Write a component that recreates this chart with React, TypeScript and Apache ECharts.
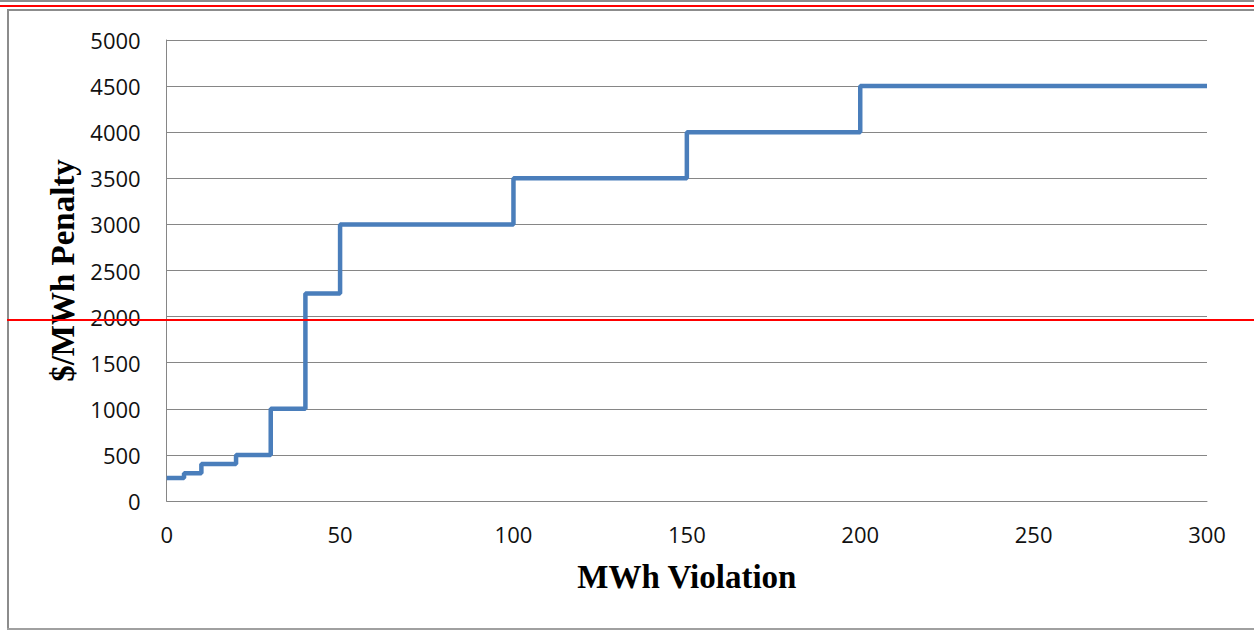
import React, { useEffect, useRef } from "react";
import * as echarts from "echarts";

const violationMWh = [0, 5, 10, 20, 30, 40, 50, 100, 150, 200, 300];
const penaltyPerMWh = [250, 300, 400, 500, 1000, 2250, 3000, 3500, 4000, 4500, 4500];
const xTitle = "MWh Violation";
const yTitle = "$/MWh Penalty";

export default function App() {
  const ref = useRef<HTMLDivElement>(null);
  useEffect(() => {
    const chart = echarts.init(ref.current!, null, { renderer: "svg" });
    const data = violationMWh.map((x, i) => [x, penaltyPerMWh[i]]);
    chart.setOption({
      animation: false,
      backgroundColor: "#ffffff",
      grid: { left: 166.7, top: 40, right: 47, bottom: 129 },
      xAxis: {
        type: "value",
        min: 0,
        max: 300,
        interval: 50,
        name: xTitle,
        nameLocation: "middle",
        nameGap: 59,
        nameTextStyle: { fontFamily: "Liberation Serif", fontWeight: "bold", fontSize: 33, color: "#000" },
        axisLine: { show: true, lineStyle: { color: "#868686", width: 1 } },
        axisTick: { show: false },
        splitLine: { show: false },
        axisLabel: { fontFamily: "Open Sans", fontSize: 22, color: "#111", margin: 22, formatter: (v: number) => String(v) },
      },
      yAxis: {
        type: "value",
        min: 0,
        max: 5000,
        interval: 500,
        name: yTitle,
        nameLocation: "middle",
        nameGap: 74,
        nameTextStyle: { fontFamily: "Liberation Serif", fontWeight: "bold", fontSize: 33, color: "#000" },
        axisLine: { show: true, lineStyle: { color: "#868686", width: 1 } },
        axisTick: { show: false },
        splitLine: { show: true, lineStyle: { color: "#868686", width: 1 } },
        axisLabel: { fontFamily: "Open Sans", fontSize: 22, color: "#111", margin: 26, formatter: (v: number) => String(v) },
      },
      series: [
        {
          type: "line",
          step: "end",
          data,
          showSymbol: false,
          symbol: "none",
          lineStyle: { color: "#4a7ebb", width: 4.5 },
        },
      ],
      graphic: [
        { type: "rect", shape: { x: 0, y: 0, width: 1254, height: 2 }, style: { fill: "#8c8c8c" }, silent: true },
        { type: "rect", shape: { x: 0, y: 5, width: 1254, height: 2 }, style: { fill: "#ff0000" }, silent: true },
        { type: "rect", shape: { x: 7, y: 9, width: 1260, height: 2 }, style: { fill: "#8c8c8c" }, silent: true },
        { type: "rect", shape: { x: 7, y: 9, width: 2, height: 620 }, style: { fill: "#8c8c8c" }, silent: true },
        { type: "rect", shape: { x: 7, y: 628, width: 1260, height: 2 }, style: { fill: "#a0a0a0" }, silent: true },
        { type: "rect", shape: { x: 7, y: 319, width: 1254, height: 2 }, style: { fill: "#ff0000" }, silent: true, z: 100 },
      ],
    });
    return () => chart.dispose();
  }, []);
  return (
    <div
      ref={ref}
      style={{ position: "fixed", left: 0, top: 0, width: 1254, height: 630 }}
    />
  );
}
